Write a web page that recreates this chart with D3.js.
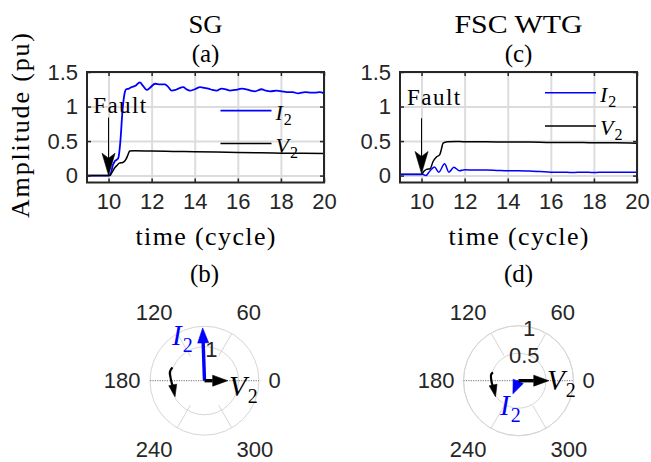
<!DOCTYPE html>
<html><head><meta charset="utf-8">
<script src="https://cdn.jsdelivr.net/npm/d3@7"></script>
<style>body{margin:0;background:#fff}svg{display:block}</style>
</head><body>
<script>
// ---------- data ----------
const xTicks = [10, 12, 14, 16, 18, 20];
const yTicks = [0, 0.5, 1, 1.5];
const yTickLabels = ["0", "0.5", "1", "1.5"];
const xDomain = [9, 20];
const yDomain = [-0.1, 1.5];

const sgI2Time = [9,10,10.1,10.2,10.3,10.45,10.55,10.65,10.75,10.82,10.95,11.06,11.25,11.45,11.6,11.77,11.95,12.16,12.4,12.62,12.78,12.93,13.1,13.24,13.47,13.62,13.78,14.0,14.25,14.45,14.63,14.82,15.02,15.25,15.45,15.64,15.85,16.03,16.2,16.4,16.6,16.8,17.1,17.3,17.5,17.8,18.05,18.27,18.55,18.8,19.13,19.4,19.6,19.8,20];
const sgI2 = [0,0,0.03,0.15,0.21,0.25,0.5,0.95,1.2,1.25,1.26,1.28,1.3,1.35,1.3,1.24,1.28,1.33,1.32,1.32,1.28,1.23,1.24,1.26,1.28,1.25,1.23,1.25,1.28,1.27,1.26,1.24,1.23,1.26,1.25,1.23,1.24,1.25,1.26,1.25,1.23,1.22,1.25,1.23,1.22,1.23,1.22,1.21,1.21,1.19,1.21,1.2,1.2,1.21,1.19];
const sgV2Time = [9,10.05,10.15,10.28,10.4,10.5,10.66,10.8,10.9,10.98,11.2,12,13,14,15,16,17,18,19,20];
const sgV2 = [0,0,0.04,0.11,0.15,0.18,0.19,0.23,0.3,0.355,0.36,0.355,0.35,0.345,0.34,0.335,0.33,0.325,0.322,0.32];

const fscV2Time = [9,10,10.1,10.23,10.4,10.53,10.69,10.84,10.92,11.0,11.2,11.6,12,13,14,15,16,17,18,19,20];
const fscV2 = [0.015,0.015,0.06,0.09,0.1,0.2,0.27,0.3,0.38,0.47,0.49,0.495,0.49,0.49,0.485,0.485,0.48,0.48,0.475,0.475,0.47];
const fscI2Time = [9,10.03,10.2,10.37,10.6,10.8,11.07,11.27,11.5,11.76,12,12.5,13,13.5,14,14.5,15,15.5,16,16.5,17,17.5,18,18.5,19,19.5,20];
const fscI2 = [0.02,0.02,0.0,0.06,0.125,0.05,0.17,0.05,0.12,0.07,0.085,0.08,0.08,0.075,0.07,0.07,0.065,0.06,0.05,0.05,0.045,0.05,0.045,0.05,0.05,0.05,0.05];

// polar phasors: magnitude, angle (deg)
const angleLabels = [0, 60, 120, 180, 240, 300];
const sgPhasorNames = ["I", "V"];
const sgPhasorMag = [1.55, 0.68];
const sgPhasorAng = [92, 0];
const fscPhasorNames = ["I", "V"];
const fscPhasorMag = [0.26, 0.55];
const fscPhasorAng = [247, 0];
const sgRings = [1];
const sgRmax = 1.6;
const fscRings = [0.5, 1];
const fscRmax = 1;
// rotation indicator arrows (r, angle)
const sgRotR = [1.02, 1.05, 0.995, 0.94, 0.985];
const sgRotA = [157.4, 165.4, 176, 193.7, 208.5];
const fscRotR = [0.49, 0.51, 0.49, 0.48, 0.51];
const fscRotA = [162, 168, 182, 204.4, 215];

// ---------- drawing ----------
const svg = d3.select("body").append("svg").attr("width", 651).attr("height", 462);
const SANS = "'Liberation Sans', Arial, sans-serif";
const SERIF = "'Liberation Serif', 'Times New Roman', serif";
const BLUE = "#0000ff";

function zip(t, v) { return t.map((d, i) => [d, v[i]]); }

function arrowHead(g, x1, y1, x2, y2, len, w, color, notch) {
  const dx = x2 - x1, dy = y2 - y1, L = Math.hypot(dx, dy);
  const ux = dx / L, uy = dy / L, px = -uy, py = ux;
  const bx = x2 - ux * len, by = y2 - uy * len;
  const nx = x2 - ux * (len - (notch || 0)), ny = y2 - uy * (len - (notch || 0));
  g.append("path")
    .attr("d", `M${x2},${y2}L${bx + px * w / 2},${by + py * w / 2}L${nx},${ny}L${bx - px * w / 2},${by - py * w / 2}Z`)
    .attr("fill", color).attr("stroke", color).attr("stroke-width", 0.6);
  return [nx, ny];
}

function linePanel(cfg) {
  const x = d3.scaleLinear().domain(xDomain).range([cfg.x0, cfg.x1]);
  const y = d3.scaleLinear().domain(yDomain).range([182.5, 72]);
  const g = svg.append("g");
  // grid
  g.append("g").attr("transform", "translate(0,182.5)")
    .call(d3.axisBottom(x).tickValues(xTicks).tickSize(-110.5).tickFormat(""))
    .call(a => { a.select(".domain").remove(); a.selectAll("line").attr("stroke", "#dcdcdc").attr("stroke-width", 2); });
  g.append("g").attr("transform", `translate(${cfg.x0},0)`)
    .call(d3.axisLeft(y).tickValues(yTicks).tickSize(-(cfg.x1 - cfg.x0)).tickFormat(""))
    .call(a => { a.select(".domain").remove(); a.selectAll("line").attr("stroke", "#dcdcdc").attr("stroke-width", 2); });
  // lines
  const line = d3.line().x(d => x(d[0])).y(d => y(d[1])).curve(d3.curveMonotoneX);
  cfg.series.forEach(s => {
    g.append("path").attr("d", line(zip(s.t, s.v))).attr("fill", "none")
      .attr("stroke", s.color).attr("stroke-width", s.w);
  });
  // ticks (inward) all sides
  const tk = "#262626";
  const axB = g.append("g").attr("transform", "translate(0,182.5)")
    .call(d3.axisBottom(x).tickValues(xTicks).tickSize(-4).tickPadding(12).tickFormat(d3.format("d")));
  const axT = g.append("g").attr("transform", "translate(0,72)")
    .call(d3.axisTop(x).tickValues(xTicks).tickSize(-4).tickFormat(""));
  const axL = g.append("g").attr("transform", `translate(${cfg.x0},0)`)
    .call(d3.axisLeft(y).tickValues(yTicks).tickSize(-4).tickPadding(9).tickFormat((d, i) => yTickLabels[i]));
  const axR = g.append("g").attr("transform", `translate(${cfg.x1},0)`)
    .call(d3.axisRight(y).tickValues(yTicks).tickSize(-4).tickFormat(""));
  [axB, axT, axL, axR].forEach(a => {
    a.select(".domain").remove();
    a.selectAll("line").attr("stroke", tk).attr("stroke-width", 1.5);
    a.selectAll("text").attr("font-family", SANS).attr("font-size", 22).attr("fill", "#262626");
  });
  axB.selectAll("text").attr("dy", "0.68em");
  // box
  g.append("rect").attr("x", cfg.x0).attr("y", 72).attr("width", cfg.x1 - cfg.x0).attr("height", 110.5)
    .attr("fill", "none").attr("stroke", tk).attr("stroke-width", 2);
  const cx = (cfg.x0 + cfg.x1) / 2;
  // titles
  g.append("text").attr("x", cx).attr("y", 33).attr("text-anchor", "middle")
    .attr("font-family", SERIF).attr("font-size", 25)
    .attr("textLength", cfg.titleW).attr("lengthAdjust", "spacingAndGlyphs").text(cfg.title);
  g.append("text").attr("x", cx).attr("y", 62).attr("text-anchor", "middle")
    .attr("font-family", SERIF).attr("font-size", 25).text(cfg.letter);
  g.append("text").attr("x", cx).attr("y", 245).attr("text-anchor", "middle")
    .attr("font-family", SERIF).attr("font-size", 26)
    .attr("textLength", 140).attr("lengthAdjust", "spacing").text("time (cycle)");
  // fault annotation
  g.append("text").attr("x", x(cfg.fault.tx)).attr("y", y(cfg.fault.ty))
    .attr("font-family", SERIF).attr("font-size", 23)
    .attr("textLength", 53).attr("lengthAdjust", "spacing").text("Fault");
  const fx = x(10), fy1 = y(cfg.fault.from), fy2 = y(cfg.fault.to);
  const nb = arrowHead(g, fx, fy1, fx, fy2, 22, 13, "#000", 5);
  g.append("line").attr("x1", fx).attr("x2", fx).attr("y1", fy1).attr("y2", nb[1] + 1)
    .attr("stroke", "#000").attr("stroke-width", 1);
  // legend
  cfg.legend.forEach((L, i) => {
    const ly = cfg.legY[i];
    g.append("line").attr("x1", cfg.legX).attr("x2", cfg.legX + 51).attr("y1", ly).attr("y2", ly)
      .attr("stroke", L.color).attr("stroke-width", L.w);
    const t = g.append("text").attr("x", cfg.legX + 55).attr("y", ly + 9)
      .attr("font-family", SERIF).attr("font-size", 22);
    t.append("tspan").attr("font-style", "italic").text(L.name);
    t.append("tspan").attr("font-size", 16).attr("dy", 5).attr("dx", 1).text("2");
  });
}

linePanel({
  x0: 87, x1: 324, title: "SG", titleW: 34, letter: "(a)",
  series: [{ t: sgI2Time, v: sgI2, color: BLUE, w: 1.8 }, { t: sgV2Time, v: sgV2, color: "#000", w: 1.5 }],
  fault: { tx: 9.29, ty: 0.905, from: 0.84, to: 0.005 },
  legX: 220.5, legY: [110.7, 143.5],
  legend: [{ name: "I", color: BLUE, w: 1.8 }, { name: "V", color: "#000", w: 1.5 }]
});
linePanel({
  x0: 400, x1: 637, title: "FSC WTG", titleW: 128, letter: "(c)",
  series: [{ t: fscV2Time, v: fscV2, color: "#000", w: 1.5 }, { t: fscI2Time, v: fscI2, color: BLUE, w: 1.5 }],
  fault: { tx: 9.33, ty: 1.02, from: 0.83, to: 0.03 },
  legX: 545, legY: [92.7, 126],
  legend: [{ name: "I", color: BLUE, w: 1.5 }, { name: "V", color: "#000", w: 1.5 }]
});

// ---------- polar panels ----------
function polarPanel(cfg) {
  const cx = cfg.cx, cy = 380.7, R = cfg.R;
  const r = d3.scaleLinear().domain([0, cfg.rmax]).range([0, R]);
  const pt = (rad, deg) => [cx + r(rad) * Math.cos(deg * Math.PI / 180), cy - r(rad) * Math.sin(deg * Math.PI / 180)];
  const g = svg.append("g");
  g.append("text").attr("x", cx).attr("y", 282).attr("text-anchor", "middle")
    .attr("font-family", SERIF).attr("font-size", 25).text(cfg.letter);
  // rings
  cfg.rings.concat([cfg.rmax]).forEach(rv => {
    g.append("circle").attr("cx", cx).attr("cy", cy).attr("r", r(rv))
      .attr("fill", "none").attr("stroke", "#d6d6d6").attr("stroke-width", 1);
  });
  // spokes
  [60, 120, 240, 300].forEach(a => {
    const p1 = pt(cfg.rmax * 0.52, a), p2 = pt(cfg.rmax, a);
    g.append("line").attr("x1", p1[0]).attr("y1", p1[1]).attr("x2", p2[0]).attr("y2", p2[1])
      .attr("stroke", "#d6d6d6").attr("stroke-width", 1);
  });
  const h1 = pt(cfg.rmax, 180), h2 = pt(cfg.rmax, 0);
  g.append("line").attr("x1", h1[0]).attr("y1", cy).attr("x2", h2[0]).attr("y2", cy)
    .attr("stroke", "#8c8c8c").attr("stroke-width", 1.2).attr("stroke-dasharray", "1.2,1.2");
  // ring labels
  cfg.rings.forEach(rv => {
    const p = pt(rv, 80);
    g.append("text").attr("x", p[0] + 1).attr("y", p[1] + 2).attr("dy", "0.35em").attr("text-anchor", "middle")
      .attr("font-family", SANS).attr("font-size", 22).attr("fill", "#262626").text(String(rv));
  });
  // angle labels
  angleLabels.forEach(a => {
    const c = Math.cos(a * Math.PI / 180), s = Math.sin(a * Math.PI / 180);
    const lx = cx + 64 * c;
    const ly = cy - (64 * s + 13 * Math.sign(Math.round(s * 100)));
    g.append("text").attr("x", lx).attr("y", ly).attr("dy", "0.35em")
      .attr("text-anchor", c > 0.01 ? "start" : (c < -0.01 ? "end" : "middle"))
      .attr("font-family", SANS).attr("font-size", 22).attr("fill", "#262626").text(String(a));
  });
  // rotation indicator
  const rp = cfg.rotR.map((rv, i) => pt(rv, cfg.rotA[i]));
  const n = rp.length;
  const nb = arrowHead(g, rp[n - 2][0], rp[n - 2][1], rp[n - 1][0], rp[n - 1][1], 12, 8, "#000", 0);
  const rp2 = rp.slice(0, n - 1).concat([nb]);
  g.append("path").attr("d", d3.line().curve(d3.curveCatmullRom)(rp2))
    .attr("fill", "none").attr("stroke", "#000").attr("stroke-width", 2.2);
  // phasors
  cfg.mag.forEach((m, i) => {
    const tip = pt(m, cfg.ang[i]);
    const col = cfg.colors[i];
    const hl = Math.min(15, r(m) * 0.95);
    const b = arrowHead(g, cx, cy, tip[0], tip[1], hl, 11, col, 0);
    g.append("line").attr("x1", cx).attr("y1", cy).attr("x2", b[0]).attr("y2", b[1])
      .attr("stroke", col).attr("stroke-width", 3.4);
  });
  // phasor labels
  cfg.labels.forEach(L => {
    const t = g.append("text").attr("x", L.x).attr("y", L.y).attr("fill", L.color)
      .attr("font-family", SERIF).attr("font-size", 29);
    t.append("tspan").attr("font-style", "italic").text(L.name);
    t.append("tspan").attr("font-size", 20).attr("dy", 7).attr("dx", 1).text("2");
  });
}

polarPanel({
  cx: 204.5, R: 54.5, rmax: sgRmax, rings: sgRings, letter: "(b)",
  mag: sgPhasorMag, ang: sgPhasorAng, colors: [BLUE, "#000"],
  rotR: sgRotR, rotA: sgRotA,
  labels: [{ name: sgPhasorNames[0], x: 172, y: 345, color: BLUE }, { name: sgPhasorNames[1], x: 229, y: 396, color: "#000" }]
});
polarPanel({
  cx: 518.5, R: 55, rmax: fscRmax, rings: fscRings, letter: "(d)",
  mag: fscPhasorMag, ang: fscPhasorAng, colors: [BLUE, "#000"],
  rotR: fscRotR, rotA: fscRotA,
  labels: [{ name: fscPhasorNames[0], x: 500, y: 415, color: BLUE }, { name: fscPhasorNames[1], x: 547, y: 390, color: "#000" }]
});

// y label
svg.append("text").attr("transform", "translate(29,125.5) rotate(-90)").attr("text-anchor", "middle")
  .attr("font-family", SERIF).attr("font-size", 26)
  .attr("textLength", 185).attr("lengthAdjust", "spacing").text("Amplitude (pu)");
</script>
</body></html>
